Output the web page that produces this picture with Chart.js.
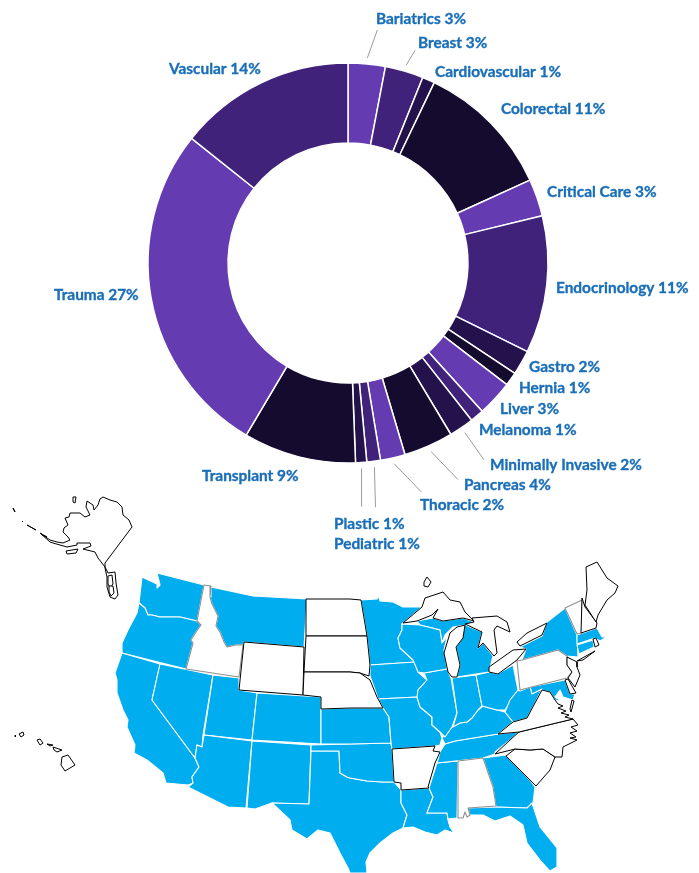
<!DOCTYPE html>
<html>
<head>
<meta charset="utf-8">
<title>Specialties and states</title>
<script src="https://cdn.jsdelivr.net/npm/chart.js@4"></script>
<style>
  html, body { margin: 0; padding: 0; background: #fff; }
  #page { position: relative; width: 699px; height: 873px; overflow: hidden; }
  canvas { position: absolute; left: 0; top: 0; }
</style>
</head>
<body>
<div id="page">
  <canvas id="mapChart" width="699" height="873"></canvas>
  <canvas id="donutChart" width="699" height="873"></canvas>
</div>
<script>
// ---------- Doughnut data ----------
const specialties = ["Bariatrics", "Breast", "Cardiovascular", "Colorectal", "Critical Care", "Endocrinology",
  "Gastro", "Hernia", "Liver", "Melanoma", "Minimally Invasive", "Pancreas", "Thoracic", "Pediatric", "Plastic",
  "Transplant", "Trauma", "Vascular"];
const printedPercents = [3, 3, 1, 11, 3, 11, 2, 1, 3, 1, 2, 4, 2, 1, 1, 9, 27, 14];
// slice sizes as measured on the ring (printed labels are rounded)
const sliceShares = [3.0, 3.1, 1.0, 11.1, 3.0, 11.1, 2.0, 1.1, 2.9, 1.1, 2.0, 4.0, 2.0, 1.1, 0.9, 9.1, 27.2, 14.3];
const purples = ["#643bb1", "#40227a", "#24124c", "#150b2e"];

// label left edge / vertical middle, same order as specialties
const labelX = [376, 418, 435, 501, 547, 556, 529, 519, 500, 479, 490, 464, 420, 334, 334, 202, 54, 169];
const labelY = [19, 43, 72, 109, 192, 288, 367, 388, 409, 430, 465, 485, 505, 544, 524, 476, 295, 69];
// leader lines: slice index, then end of line relative to its start
const leaderSlices = [0, 1, 10, 11, 12, 13, 14];
const leaderDx = [10, 9, 19, 27, 27, 1, 0];
const leaderDy = [-28, -15, 27, 28, 28, 40, 38];

// ---------- Map outlines (traced, in map units) ----------
const WA = [157,573,204,585,197,621,180,617,160,617,152,615,148,615,145,608,139,603,142,577,157,584,157,588,160,585];
const OR = [139,603,145,608,148,615,152,615,160,617,180,617,197,621,201,625,196,632,191,640,193,643,186,669,122,653,122,643,128,630,137,613];
const CA = [122,653,160,664,152,700,195,758,199,767,192,777,193,783,188,785,166,783,163,773,147,760,134,753,135,745,127,727,128,720,123,710,117,693,117,680,115,673];
const NV = [160,664,213,675,203,735,202,747,197,745,195,758,152,700];
const MT = [211,587,253,596,307,599,304,647,244,642,243,645,236,645,227,647,224,642,220,632,216,626,218,616,212,604,210,597];
const UT = [213,675,239,678,239,690,257,693,252,740,204,735];
const CO = [257,693,321,697,321,744,252,740];
const AZ = [204,735,252,741,246,808,228,807,188,787,193,783,192,777,199,767,195,758,197,745,202,747];
const NM = [252,741,311,745,309,804,272,803,255,809,247,808];
const TX = [311,751,339,751,340,773,347,777,350,778,367,781,383,782,394,782,401,790,401,803,407,815,403,828,393,833,380,843,370,853,366,862,367,873,350,873,348,868,340,853,330,833,318,830,307,839,292,830,290,820,272,803,309,804];
const OK = [311,745,350,744,391,743,392,749,394,782,383,782,367,781,350,778,347,777,340,773,339,751,311,751];
const KS = [321,709,350,708,383,708,389,717,391,743,350,744,321,744];
const MN = [361,600,377,599,378,595,380,601,393,602,403,607,422,607,402,624,402,630,398,638,400,648,413,660,416,662,370,665,367,636];
const IA = [370,665,415,662,418,672,427,680,418,690,418,697,378,699,375,690,370,676];
const MO = [378,699,417,697,420,707,432,717,432,725,440,732,442,738,440,745,435,746,392,749,391,743,389,717,383,708];
const LA = [401,790,429,788,433,797,427,813,447,813,448,820,450,827,454,833,445,830,437,835,425,832,413,827,403,828,407,815,401,803];
const MS = [437,763,458,761,457,818,448,819,447,813,427,813,433,797,429,788];
const TN = [445,744,455,741,498,734,519,732,510,740,495,752,495,754,483,758,437,763,440,752];
const GA = [483,758,506,755,530,780,535,787,533,803,527,808,496,807,493,787];
const FL = [468,808,496,807,527,808,532,803,540,827,557,848,557,867,550,871,540,860,527,843,523,825,510,816,495,821,483,815,470,815];
const KY = [445,744,442,738,452,727,460,723,467,722,472,718,478,710,483,706,497,710,505,712,513,722,498,734,455,741];
const IL = [424,673,447,669,451,678,457,713,452,727,445,737,440,732,432,725,432,717,420,707,417,697,418,690,427,680];
const IN = [452,678,476,675,482,706,478,710,472,718,467,722,460,723,453,727,457,713];
const OH = [476,675,489,672,497,674,513,665,518,690,505,710,497,710,482,706];
const MI = [457,677,489,672,493,656,483,643,478,648,482,632,463,624,462,638,456,647,460,665];
const UP = [417,621,433,618,443,621,463,618,474,622,465,625,453,627,445,635,442,643,440,630,420,625];
const WI = [402,624,402,630,398,638,400,648,413,660,418,672,424,673,447,669,444,650,447,637,442,643,440,630,420,625];
const NY = [522,660,526,649,520,647,542,636,547,622,565,608,577,635,578,657,567,656,558,650];
const MA = [577,635,597,628,602,637,607,637,600,641,595,638,577,644];
const CT = [577,645,593,640,594,647,579,654];
const MD = [530,687,565,680,570,694,575,694,573,700,563,697,560,690,555,697,563,702,555,700,550,692,542,690,532,694];
const WV = [518,690,520,691,530,687,532,694,542,689,535,703,527,718,513,722,505,712,510,700];

const ID = [204,585,211,586,210,597,212,604,218,616,216,626,220,632,224,642,227,647,236,645,243,645,239,677,186,669,193,643,191,640,196,632,201,625,197,621];
const WY = [244,642,304,647,303,695,239,690];
const ND = [306,599,350,599,361,600,367,636,306,636];
const SD = [306,636,350,636,367,636,370,665,369,676,360,673,350,672,304,672];
const NE = [304,672,350,672,360,673,370,680,377,697,383,708,350,708,321,709,321,697,303,695];
const AR = [392,749,435,746,433,751,440,752,435,763,428,787,429,788,401,790,401,783,394,782];
const AL = [458,761,483,758,493,787,496,806,468,808,470,815,467,817,465,812,463,818,458,818];
const SC = [506,756,515,749,530,750,543,749,555,757,550,770,536,786,530,780];
const NC = [519,732,573,719,578,725,571,727,577,731,570,733,576,737,570,738,577,740,563,747,562,757,555,757,543,749,530,750,515,749,495,754,510,740];
const VA = [498,734,513,722,527,718,535,703,542,690,550,692,555,700,558,704,563,706,558,708,566,711,561,713,569,715,565,717,573,719,519,732];
const VA_SHORE = [572,700,574,701,571,712,570,709];
const VT = [565,608,582,600,582,633,577,634];
const NH = [582,598,585,607,597,623,596,628,581,633];
const ME = [585,605,587,590,586,567,597,562,607,578,618,586,615,593,607,600,598,615,596,622];
const RI = [593,639,596,638,599,645,595,647];
const PA = [517,661,522,660,558,650,567,656,567,665,572,672,567,678,520,690];
const NJ = [567,657,577,662,577,667,580,675,575,687,568,678,572,672,567,665];
const DE = [565,680,568,679,576,693,570,694];
const LONG_ISLAND = [577,661,595,651,583,660];

const SUPERIOR = [403,623,422,607,425,598,443,592,450,600,460,602,465,612,474,621,463,618,443,621,433,618,438,609,432,615,417,621,410,622];
const LK_MICHIGAN = [465,625,463,638,456,647,460,665,457,677,452,677,448,672,444,653,450,633,457,627];
const HURON = [465,624,474,622,472,618,497,616,507,622,510,632,497,626,494,630,497,653,494,656,483,643,478,648,482,632];
const ERIE = [489,667,513,650,526,649,517,660,498,674,489,672];
const ONTARIO = [517,642,527,633,547,623,542,635,520,646];
const ISLE_ROYALE = [424,582,427,577,431,582,428,587,424,586];

const ALASKA = [105,563,132,527,129,520,123,515,122,507,117,502,110,500,103,497,100,499,98,505,94,510,93,505,87,501,86,507,90,515,85,517,80,513,70,513,69,517,65,518,68,525,64,528,63,532,68,537,70,540,63,543,57,542,50,540,40,533,50,542,53,543,67,547,77,545,77,543,90,543,91,546,83,549,95,552,98,558,105,567,108,573,115,572,116,583,118,595,115,599,110,597,107,587,107,577,105,568];
const PANHANDLE_A = [108,576,112,575,113,584,110,588,108,584];
const PANHANDLE_B = [109,586,113,586,114,593,111,596,109,592];
const KODIAK = [66,551,78,549,76,553,67,554];
const ST_LAWRENCE = [73,497,76,497,75,503,73,502];
const ALEUTIAN_A = [13,508,15,512];
const ALEUTIAN_B = [22,521,23,522];
const ALEUTIAN_C = [27,525,36,530];
const ALEUTIAN_D = [41,534,47,537];
const HI_BIG = [62,757,68,755,75,765,65,771,61,765];
const HI_MAUI = [53,747,62,750,57,752,54,750];
const HI_MOLOKAI = [47,744,53,745,50,746];
const HI_OAHU = [37,740,40,739,43,743,40,745];
const HI_KAUAI = [19,734,23,732,24,735,21,737];
const HI_NIIHAU = [15,735,16,736,15,737];

const servedStates = [WA, OR, CA, NV, MT, UT, CO, AZ, NM, TX, OK, KS, MN, IA, MO, LA, MS, TN, GA, FL, KY, IL, IN, OH, MI, UP, WI, NY, MA, CT, MD, WV];
const otherStates = [WY, ND, SD, NE, AR, SC, NC, VA, VA_SHORE, NH, ME, RI, NJ, DE, LONG_ISLAND, ALASKA, PANHANDLE_A, PANHANDLE_B, KODIAK, ST_LAWRENCE, ALEUTIAN_A, ALEUTIAN_B, ALEUTIAN_C, ALEUTIAN_D, HI_BIG, HI_MAUI, HI_MOLOKAI, HI_OAHU, HI_KAUAI, HI_NIIHAU];
const greyEdgedStates = [ID, AL, VT, PA];
const lakes = [SUPERIOR, LK_MICHIGAN, HURON, ERIE, ONTARIO, ISLE_ROYALE];

// ---------- Helpers ----------
const toPoints = (flat) => {
  const pts = [];
  for (let i = 0; i < flat.length; i += 2) pts.push({ x: flat[i], y: flat[i + 1] });
  pts.push({ x: flat[0], y: flat[1] });
  return pts;
};

const outline = (flat, fillColor, edgeColor, width) => ({
  data: toPoints(flat),
  showLine: true,
  fill: "shape",
  tension: 0,
  pointRadius: 0,
  backgroundColor: fillColor,
  borderColor: edgeColor,
  borderWidth: width,
  borderJoinStyle: "round",
});

// ---------- Map ----------
const BLUE = "#00aeef";
// chart.js paints the first dataset last, so reverse the paint order
const mapDatasets = [
  ...servedStates.map((s) => outline(s, BLUE, "#ffffff", 1.1)),
  ...greyEdgedStates.map((s) => outline(s, "#ffffff", "#8f8f8f", 1.1)),
  ...otherStates.map((s) => outline(s, "#ffffff", "#000000", 1)),
  ...lakes.map((s) => outline(s, "#ffffff", "#000000", 1)),
].reverse();

new Chart(document.getElementById("mapChart"), {
  type: "scatter",
  data: { datasets: mapDatasets },
  options: {
    responsive: false,
    animation: false,
    parsing: false,
    plugins: { legend: { display: false }, tooltip: { enabled: false } },
    scales: {
      x: { display: false, min: 0, max: 699 },
      y: { display: false, min: 0, max: 873, reverse: true },
    },
  },
});

// ---------- Doughnut labels + leader lines ----------
const donutLabels = {
  id: "donutLabels",
  afterDatasetsDraw(chart) {
    const ctx = chart.ctx;
    const arcs = chart.getDatasetMeta(0).data;
    ctx.save();

    ctx.strokeStyle = "#9a9a9a";
    ctx.lineWidth = 1;
    leaderSlices.forEach((idx, i) => {
      const p = arcs[idx].getProps(["x", "y", "startAngle", "endAngle", "outerRadius"], true);
      const mid = (p.startAngle + p.endAngle) / 2;
      const sx = p.x + Math.cos(mid) * (p.outerRadius + 6);
      const sy = p.y + Math.sin(mid) * (p.outerRadius + 6);
      ctx.beginPath();
      ctx.moveTo(sx, sy);
      ctx.lineTo(sx + leaderDx[i], sy + leaderDy[i]);
      ctx.stroke();
    });

    // Lato bold is a touch lighter than the print face, so thicken it a little
    ctx.font = "bold 15.4px Lato";
    ctx.fillStyle = "#1a6fb8";
    ctx.strokeStyle = "#1a6fb8";
    ctx.lineWidth = 0.35;
    ctx.textAlign = "left";
    ctx.textBaseline = "middle";
    specialties.forEach((name, i) => {
      const text = `${name} ${printedPercents[i]}%`;
      ctx.fillText(text, labelX[i], labelY[i]);
      ctx.strokeText(text, labelX[i], labelY[i]);
    });
    ctx.restore();
  },
};

new Chart(document.getElementById("donutChart"), {
  type: "doughnut",
  data: {
    labels: specialties,
    datasets: [{
      data: sliceShares,
      backgroundColor: specialties.map((_, i) => purples[i % purples.length]),
      borderColor: "#ffffff",
      borderWidth: 1.5,
    }],
  },
  options: {
    responsive: false,
    animation: false,
    radius: 200,
    cutout: "60%",
    layout: { padding: { right: 3, bottom: 347 } },
    plugins: { legend: { display: false }, tooltip: { enabled: false } },
  },
  plugins: [donutLabels],
});
</script>
</body>
</html>
